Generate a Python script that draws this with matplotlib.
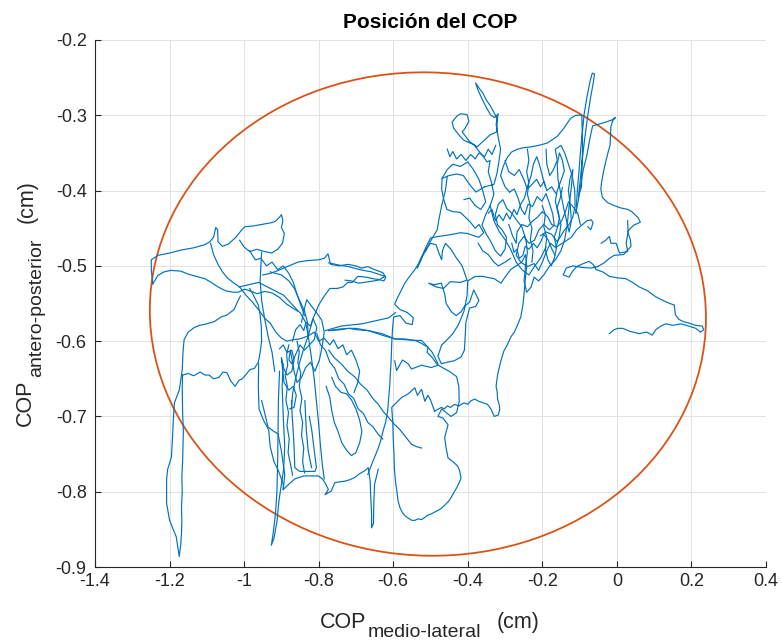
import numpy as np
import matplotlib
matplotlib.use("Agg")
import matplotlib.pyplot as plt
from matplotlib.patches import Ellipse

plt.rcParams['font.family'] = ['Liberation Sans', 'DejaVu Sans']

# COP trajectory, as strokes of (medio-lateral, antero-posterior) in cm
tail = [(-0.020, -0.590), (-0.008, -0.585), (0.002, -0.583), (0.016, -0.583), (0.035, -0.587),
        (0.060, -0.590), (0.080, -0.588), (0.095, -0.592), (0.104, -0.585), (0.118, -0.580),
        (0.131, -0.577), (0.150, -0.579), (0.172, -0.577), (0.193, -0.580), (0.212, -0.583),
        (0.224, -0.588), (0.233, -0.585), (0.229, -0.580), (0.211, -0.579), (0.193, -0.576),
        (0.178, -0.574), (0.166, -0.571), (0.157, -0.565), (0.154, -0.552), (0.142, -0.550),
        (0.128, -0.547), (0.104, -0.541), (0.082, -0.533), (0.060, -0.528), (0.042, -0.522),
        (0.024, -0.517), (0.003, -0.516), (-0.020, -0.514), (-0.038, -0.508), (-0.056, -0.505),
        (-0.064, -0.498), (-0.075, -0.494), (-0.090, -0.497), (-0.108, -0.501), (-0.120, -0.508),
        (-0.128, -0.515), (-0.144, -0.512), (-0.136, -0.503), (-0.118, -0.500), (-0.095, -0.502),
        (-0.070, -0.503), (-0.052, -0.501)]

right_edge = [(-0.052, -0.501), (-0.034, -0.496), (-0.020, -0.490), (-0.007, -0.486), (0.018, -0.485),
              (0.038, -0.474), (0.036, -0.465), (0.029, -0.454), (0.045, -0.446), (0.063, -0.442),
              (0.057, -0.436), (0.040, -0.428), (0.029, -0.425), (0.010, -0.423), (-0.007, -0.420),
              (-0.025, -0.416), (-0.039, -0.409), (-0.043, -0.398), (-0.041, -0.389), (-0.036, -0.375),
              (-0.030, -0.362), (-0.024, -0.350), (-0.018, -0.339), (-0.017, -0.325), (-0.016, -0.315),
              (-0.011, -0.307), (-0.004, -0.303), (-0.012, -0.306), (-0.030, -0.309), (-0.050, -0.312),
              (-0.065, -0.314), (-0.072, -0.330), (-0.080, -0.352), (-0.090, -0.372), (-0.098, -0.395),
              (-0.104, -0.415), (-0.110, -0.430)]

top_spike = [(-0.110, -0.430), (-0.106, -0.400), (-0.101, -0.370), (-0.097, -0.344), (-0.092, -0.320),
             (-0.088, -0.299), (-0.080, -0.275), (-0.072, -0.255), (-0.066, -0.244), (-0.060, -0.245),
             (-0.063, -0.256), (-0.070, -0.275), (-0.078, -0.300), (-0.086, -0.330), (-0.093, -0.360),
             (-0.098, -0.385), (-0.103, -0.408), (-0.095, -0.395), (-0.092, -0.340), (-0.094, -0.300),
             (-0.110, -0.300), (-0.124, -0.304), (-0.142, -0.317), (-0.160, -0.328), (-0.187, -0.337),
             (-0.210, -0.340), (-0.231, -0.342), (-0.250, -0.343), (-0.267, -0.345), (-0.283, -0.349),
             (-0.294, -0.356), (-0.305, -0.368), (-0.312, -0.380), (-0.300, -0.395), (-0.288, -0.402)]

right_core = [(-0.288, -0.402), (-0.275, -0.398), (-0.265, -0.410), (-0.256, -0.425), (-0.247, -0.432),
              (-0.238, -0.418), (-0.226, -0.421), (-0.214, -0.408), (-0.201, -0.414), (-0.190, -0.404),
              (-0.181, -0.417), (-0.172, -0.431), (-0.168, -0.446), (-0.181, -0.452), (-0.196, -0.445),
              (-0.209, -0.452), (-0.221, -0.466), (-0.236, -0.470), (-0.250, -0.461), (-0.263, -0.470),
              (-0.270, -0.486), (-0.258, -0.495), (-0.240, -0.501), (-0.222, -0.497), (-0.210, -0.506),
              (-0.199, -0.494), (-0.189, -0.481), (-0.178, -0.470), (-0.164, -0.476), (-0.155, -0.462),
              (-0.150, -0.445), (-0.158, -0.430), (-0.165, -0.414), (-0.160, -0.400), (-0.150, -0.387),
              (-0.141, -0.374), (-0.146, -0.360), (-0.154, -0.350), (-0.160, -0.365), (-0.158, -0.385),
              (-0.150, -0.405), (-0.142, -0.425), (-0.135, -0.440), (-0.128, -0.455), (-0.122, -0.440),
              (-0.125, -0.420), (-0.130, -0.400), (-0.126, -0.385), (-0.118, -0.372), (-0.122, -0.395),
              (-0.128, -0.420), (-0.133, -0.445), (-0.140, -0.465), (-0.150, -0.480), (-0.165, -0.492),
              (-0.180, -0.500), (-0.196, -0.512), (-0.210, -0.520), (-0.222, -0.515), (-0.230, -0.528),
              (-0.242, -0.535), (-0.249, -0.520), (-0.245, -0.500), (-0.240, -0.482), (-0.244, -0.465),
              (-0.255, -0.448), (-0.268, -0.440), (-0.282, -0.430), (-0.295, -0.424), (-0.306, -0.412),
              (-0.318, -0.418), (-0.326, -0.432), (-0.320, -0.446), (-0.308, -0.452), (-0.296, -0.462),
              (-0.300, -0.478), (-0.312, -0.487), (-0.326, -0.480), (-0.338, -0.468), (-0.350, -0.458),
              (-0.362, -0.446), (-0.352, -0.432), (-0.340, -0.420), (-0.330, -0.405), (-0.336, -0.390),
              (-0.345, -0.375), (-0.340, -0.360), (-0.348, -0.362), (-0.361, -0.353), (-0.384, -0.339),
              (-0.411, -0.333), (-0.424, -0.326), (-0.438, -0.317), (-0.442, -0.309), (-0.429, -0.301),
              (-0.419, -0.298), (-0.402, -0.299), (-0.397, -0.308), (-0.408, -0.318), (-0.415, -0.322),
              (-0.395, -0.335), (-0.375, -0.342), (-0.360, -0.335), (-0.340, -0.326), (-0.322, -0.322),
              (-0.321, -0.305), (-0.330, -0.296), (-0.340, -0.287), (-0.350, -0.280), (-0.360, -0.270),
              (-0.368, -0.265), (-0.379, -0.257), (-0.373, -0.266), (-0.362, -0.278), (-0.350, -0.290),
              (-0.338, -0.300), (-0.328, -0.303), (-0.318, -0.298), (-0.324, -0.312), (-0.318, -0.330),
              (-0.312, -0.345), (-0.316, -0.360), (-0.322, -0.378), (-0.330, -0.392), (-0.355, -0.395)]

right_left = [(-0.355, -0.395), (-0.378, -0.402), (-0.395, -0.392), (-0.412, -0.380), (-0.430, -0.378),
              (-0.450, -0.380), (-0.469, -0.384), (-0.470, -0.398), (-0.465, -0.411), (-0.456, -0.425),
              (-0.440, -0.428), (-0.420, -0.429), (-0.405, -0.436), (-0.393, -0.442), (-0.380, -0.450),
              (-0.370, -0.445), (-0.357, -0.456), (-0.370, -0.462), (-0.384, -0.460), (-0.400, -0.457),
              (-0.420, -0.456), (-0.440, -0.458), (-0.465, -0.460), (-0.480, -0.461), (-0.500, -0.463),
              (-0.512, -0.475), (-0.525, -0.490), (-0.536, -0.503), (-0.528, -0.495), (-0.515, -0.480),
              (-0.500, -0.470), (-0.485, -0.472), (-0.478, -0.482), (-0.470, -0.492), (-0.468, -0.480),
              (-0.460, -0.470), (-0.445, -0.478), (-0.430, -0.490), (-0.415, -0.500), (-0.402, -0.519),
              (-0.420, -0.522), (-0.447, -0.521), (-0.465, -0.530), (-0.485, -0.528), (-0.505, -0.523),
              (-0.490, -0.525), (-0.471, -0.523), (-0.462, -0.537), (-0.458, -0.550), (-0.444, -0.561),
              (-0.431, -0.566), (-0.418, -0.561), (-0.409, -0.554), (-0.395, -0.548), (-0.384, -0.532),
              (-0.370, -0.546), (-0.379, -0.554), (-0.395, -0.556), (-0.405, -0.575), (-0.407, -0.595),
              (-0.409, -0.612), (-0.418, -0.621), (-0.436, -0.626), (-0.455, -0.628), (-0.471, -0.630),
              (-0.480, -0.620), (-0.470, -0.605), (-0.455, -0.598), (-0.440, -0.590), (-0.425, -0.578),
              (-0.410, -0.560), (-0.402, -0.540), (-0.400, -0.520), (-0.380, -0.514), (-0.360, -0.514)]

descent = [(-0.360, -0.514), (-0.329, -0.517), (-0.311, -0.523), (-0.300, -0.515), (-0.285, -0.505),
           (-0.270, -0.500), (-0.255, -0.495), (-0.245, -0.485), (-0.242, -0.500), (-0.246, -0.520),
           (-0.249, -0.537), (-0.252, -0.552), (-0.258, -0.568), (-0.266, -0.578), (-0.275, -0.588),
           (-0.284, -0.594), (-0.293, -0.604), (-0.303, -0.613), (-0.311, -0.626), (-0.316, -0.636),
           (-0.320, -0.645), (-0.322, -0.652), (-0.324, -0.660), (-0.321, -0.668), (-0.320, -0.677),
           (-0.316, -0.684), (-0.314, -0.690), (-0.318, -0.698), (-0.329, -0.700), (-0.338, -0.690),
           (-0.347, -0.684), (-0.358, -0.682), (-0.370, -0.680), (-0.381, -0.677), (-0.391, -0.679),
           (-0.400, -0.684), (-0.410, -0.682), (-0.424, -0.686), (-0.436, -0.684), (-0.446, -0.688),
           (-0.455, -0.686), (-0.463, -0.690), (-0.471, -0.688), (-0.489, -0.693)]

bottom_loop = [(-0.489, -0.693), (-0.500, -0.678), (-0.507, -0.672), (-0.515, -0.680), (-0.524, -0.664),
               (-0.535, -0.672), (-0.542, -0.662), (-0.560, -0.670), (-0.578, -0.675), (-0.604, -0.688),
               (-0.601, -0.710), (-0.600, -0.730), (-0.598, -0.750), (-0.597, -0.768), (-0.594, -0.786),
               (-0.590, -0.800), (-0.587, -0.812), (-0.582, -0.821), (-0.575, -0.828), (-0.568, -0.832),
               (-0.560, -0.835), (-0.550, -0.838), (-0.542, -0.838), (-0.533, -0.836), (-0.524, -0.837),
               (-0.515, -0.834), (-0.507, -0.831), (-0.496, -0.829), (-0.485, -0.826), (-0.473, -0.823),
               (-0.462, -0.818), (-0.452, -0.813), (-0.445, -0.808), (-0.436, -0.800), (-0.430, -0.795),
               (-0.425, -0.790), (-0.418, -0.782), (-0.422, -0.772), (-0.427, -0.766), (-0.440, -0.760),
               (-0.453, -0.755), (-0.458, -0.742), (-0.462, -0.728), (-0.455, -0.715), (-0.453, -0.711),
               (-0.467, -0.702), (-0.480, -0.700), (-0.470, -0.690), (-0.445, -0.700), (-0.430, -0.695),
               (-0.423, -0.680), (-0.424, -0.660), (-0.430, -0.647), (-0.450, -0.640), (-0.465, -0.636),
               (-0.482, -0.631), (-0.495, -0.622), (-0.509, -0.615), (-0.507, -0.608), (-0.524, -0.599),
               (-0.542, -0.599), (-0.570, -0.597), (-0.596, -0.597), (-0.630, -0.590), (-0.667, -0.586),
               (-0.700, -0.583), (-0.720, -0.583), (-0.745, -0.585), (-0.773, -0.586)]

bridge = [(-0.455, -0.381), (-0.460, -0.400), (-0.470, -0.420), (-0.478, -0.440), (-0.482, -0.452),
          (-0.495, -0.463), (-0.503, -0.470), (-0.511, -0.479), (-0.524, -0.488), (-0.532, -0.497),
          (-0.542, -0.505), (-0.556, -0.514), (-0.569, -0.523), (-0.580, -0.534), (-0.591, -0.545),
          (-0.596, -0.551), (-0.582, -0.558), (-0.562, -0.562), (-0.546, -0.569), (-0.549, -0.578),
          (-0.566, -0.576), (-0.582, -0.566), (-0.599, -0.568), (-0.602, -0.585), (-0.604, -0.603),
          (-0.605, -0.618), (-0.606, -0.630), (-0.608, -0.645), (-0.609, -0.657), (-0.612, -0.675),
          (-0.615, -0.693), (-0.620, -0.707), (-0.627, -0.719), (-0.633, -0.731), (-0.640, -0.742),
          (-0.650, -0.754), (-0.658, -0.764), (-0.668, -0.777)]

right_extra = [
    [(-0.162, -0.475), (-0.140, -0.468), (-0.122, -0.462), (-0.108, -0.452), (-0.092, -0.445),
     (-0.080, -0.440), (-0.068, -0.439), (-0.064, -0.443), (-0.070, -0.452), (-0.078, -0.448)],
    [(-0.042, -0.470), (-0.030, -0.466), (-0.020, -0.461), (-0.016, -0.470), (-0.002, -0.470),
     (0.007, -0.483), (0.029, -0.481), (0.025, -0.470), (0.030, -0.455), (0.029, -0.440)],
    [(-0.190, -0.345), (-0.188, -0.365), (-0.180, -0.380), (-0.170, -0.372), (-0.160, -0.360),
     (-0.165, -0.345), (-0.150, -0.340), (-0.140, -0.350), (-0.130, -0.365), (-0.120, -0.380),
     (-0.113, -0.400), (-0.112, -0.420), (-0.118, -0.435), (-0.128, -0.445), (-0.140, -0.452),
     (-0.150, -0.460), (-0.160, -0.468), (-0.175, -0.458), (-0.190, -0.455), (-0.205, -0.460)],
    [(-0.300, -0.360), (-0.290, -0.375), (-0.275, -0.380), (-0.262, -0.372), (-0.250, -0.385),
     (-0.240, -0.398), (-0.228, -0.392), (-0.215, -0.385), (-0.205, -0.395), (-0.195, -0.388),
     (-0.188, -0.400), (-0.175, -0.395), (-0.162, -0.405)],
    [(-0.290, -0.445), (-0.280, -0.460), (-0.270, -0.470), (-0.268, -0.455), (-0.255, -0.445),
     (-0.240, -0.448), (-0.225, -0.440), (-0.212, -0.435), (-0.200, -0.428), (-0.185, -0.435),
     (-0.175, -0.445), (-0.160, -0.448), (-0.148, -0.440), (-0.138, -0.428), (-0.130, -0.415),
     (-0.120, -0.420), (-0.105, -0.430), (-0.098, -0.445)],
    [(-0.340, -0.420), (-0.330, -0.440), (-0.315, -0.455), (-0.300, -0.465), (-0.285, -0.478),
     (-0.270, -0.495), (-0.255, -0.505), (-0.236, -0.512), (-0.220, -0.500), (-0.205, -0.490),
     (-0.190, -0.475)],
    [(-0.372, -0.470), (-0.360, -0.480), (-0.345, -0.485), (-0.330, -0.495), (-0.318, -0.500),
     (-0.300, -0.495), (-0.285, -0.490)],
    [(-0.469, -0.384), (-0.455, -0.372), (-0.440, -0.365), (-0.420, -0.368), (-0.400, -0.362),
     (-0.385, -0.372), (-0.370, -0.385), (-0.360, -0.400), (-0.352, -0.415), (-0.365, -0.425),
     (-0.380, -0.420), (-0.395, -0.410), (-0.410, -0.412)],
    [(-0.345, -0.430), (-0.335, -0.425), (-0.326, -0.440), (-0.316, -0.432), (-0.305, -0.440),
     (-0.296, -0.430), (-0.287, -0.438), (-0.276, -0.425), (-0.268, -0.432), (-0.258, -0.418),
     (-0.248, -0.410), (-0.240, -0.395), (-0.230, -0.380), (-0.224, -0.365), (-0.215, -0.355),
     (-0.208, -0.365), (-0.200, -0.380), (-0.192, -0.395)],
    [(-0.240, -0.345), (-0.236, -0.360), (-0.242, -0.375), (-0.236, -0.390), (-0.240, -0.405),
     (-0.232, -0.420), (-0.236, -0.436), (-0.228, -0.450), (-0.232, -0.465), (-0.225, -0.480),
     (-0.228, -0.495)],
    [(-0.200, -0.420), (-0.192, -0.432), (-0.196, -0.448), (-0.188, -0.462), (-0.192, -0.478),
     (-0.185, -0.492), (-0.176, -0.500), (-0.168, -0.490), (-0.162, -0.476), (-0.168, -0.462),
     (-0.160, -0.450), (-0.154, -0.436), (-0.160, -0.422), (-0.152, -0.410), (-0.146, -0.396)],
    [(-0.455, -0.345), (-0.448, -0.355), (-0.440, -0.348), (-0.430, -0.358), (-0.418, -0.352),
     (-0.405, -0.360), (-0.392, -0.352), (-0.380, -0.358), (-0.370, -0.350), (-0.355, -0.355),
     (-0.345, -0.345), (-0.335, -0.352), (-0.325, -0.340)],
    [(-0.282, -0.470), (-0.276, -0.482), (-0.268, -0.478), (-0.262, -0.490), (-0.252, -0.486),
     (-0.246, -0.474), (-0.236, -0.478), (-0.224, -0.470), (-0.214, -0.476), (-0.204, -0.468),
     (-0.196, -0.458), (-0.184, -0.466), (-0.174, -0.478), (-0.166, -0.486)],
]

left_top = [(-1.245, -0.524), (-1.249, -0.505), (-1.249, -0.492), (-1.231, -0.486), (-1.200, -0.483),
            (-1.169, -0.479), (-1.135, -0.476), (-1.106, -0.472), (-1.092, -0.468), (-1.082, -0.462),
            (-1.076, -0.449), (-1.071, -0.452), (-1.070, -0.468), (-1.058, -0.474), (-1.042, -0.471),
            (-1.022, -0.462), (-1.006, -0.452), (-0.998, -0.448), (-0.975, -0.447), (-0.953, -0.445),
            (-0.930, -0.443), (-0.917, -0.441), (-0.906, -0.436), (-0.900, -0.432), (-0.896, -0.440),
            (-0.900, -0.449), (-0.892, -0.457), (-0.897, -0.470), (-0.910, -0.478), (-0.926, -0.483),
            (-0.945, -0.481), (-0.966, -0.478), (-0.985, -0.481), (-1.000, -0.475), (-1.012, -0.466)]

left_lower = [(-1.245, -0.524), (-1.232, -0.513), (-1.215, -0.508), (-1.196, -0.506), (-1.170, -0.507),
              (-1.150, -0.511), (-1.128, -0.514), (-1.106, -0.517), (-1.088, -0.522), (-1.070, -0.528),
              (-1.050, -0.533), (-1.030, -0.535), (-1.016, -0.535), (-0.998, -0.531), (-0.985, -0.533),
              (-0.965, -0.537), (-0.945, -0.534), (-0.925, -0.536), (-0.905, -0.542), (-0.888, -0.550),
              (-0.870, -0.556), (-0.850, -0.562), (-0.835, -0.575), (-0.828, -0.593)]

left_diag = [(-1.090, -0.470), (-1.082, -0.485), (-1.070, -0.498), (-1.058, -0.508), (-1.045, -0.516),
             (-1.030, -0.522), (-1.012, -0.528), (-0.995, -0.539), (-0.978, -0.548), (-0.960, -0.559),
             (-0.944, -0.570), (-0.930, -0.576), (-0.915, -0.588), (-0.900, -0.596), (-0.885, -0.600),
             (-0.868, -0.598), (-0.850, -0.597), (-0.828, -0.593)]

far_left = [(-1.010, -0.540), (-1.018, -0.548), (-1.027, -0.558), (-1.045, -0.565), (-1.062, -0.568),
            (-1.080, -0.574), (-1.100, -0.577), (-1.120, -0.579), (-1.134, -0.582), (-1.150, -0.588),
            (-1.161, -0.598), (-1.164, -0.615), (-1.166, -0.638), (-1.174, -0.665), (-1.187, -0.682),
            (-1.190, -0.705), (-1.192, -0.727), (-1.195, -0.754), (-1.205, -0.770), (-1.208, -0.784),
            (-1.208, -0.815), (-1.200, -0.838), (-1.182, -0.860), (-1.174, -0.886), (-1.170, -0.870),
            (-1.168, -0.855), (-1.167, -0.840), (-1.168, -0.820), (-1.166, -0.800), (-1.167, -0.780),
            (-1.165, -0.760), (-1.164, -0.740), (-1.163, -0.720), (-1.165, -0.695), (-1.166, -0.660),
            (-1.165, -0.645)]

left_wiggle = [(-1.165, -0.645), (-1.150, -0.643), (-1.135, -0.646), (-1.118, -0.641), (-1.105, -0.645),
               (-1.094, -0.645), (-1.082, -0.650), (-1.067, -0.648), (-1.057, -0.641), (-1.046, -0.642),
               (-1.036, -0.653), (-1.024, -0.660), (-1.014, -0.652), (-1.005, -0.650), (-0.996, -0.645),
               (-0.985, -0.638), (-0.972, -0.636), (-0.962, -0.628), (-0.957, -0.615), (-0.953, -0.600),
               (-0.954, -0.580), (-0.958, -0.562), (-0.962, -0.552), (-0.975, -0.539), (-0.985, -0.530)]

left_spike = [(-0.905, -0.640), (-0.908, -0.680), (-0.909, -0.720), (-0.910, -0.760), (-0.912, -0.800),
              (-0.916, -0.830), (-0.922, -0.855), (-0.927, -0.871), (-0.920, -0.862), (-0.912, -0.840),
              (-0.906, -0.810), (-0.900, -0.790), (-0.894, -0.770), (-0.891, -0.740), (-0.895, -0.700),
              (-0.898, -0.660), (-0.895, -0.630)]

left_bottom = [(-0.895, -0.797), (-0.880, -0.790), (-0.864, -0.783), (-0.840, -0.779), (-0.819, -0.779),
               (-0.801, -0.779), (-0.790, -0.783), (-0.783, -0.788), (-0.774, -0.797), (-0.783, -0.804),
               (-0.766, -0.799), (-0.757, -0.788), (-0.745, -0.787), (-0.730, -0.786), (-0.716, -0.784),
               (-0.703, -0.781), (-0.690, -0.776), (-0.676, -0.772), (-0.667, -0.768), (-0.662, -0.785),
               (-0.660, -0.810), (-0.658, -0.830), (-0.658, -0.848), (-0.653, -0.842), (-0.652, -0.815),
               (-0.650, -0.790), (-0.640, -0.770)]

left_extra = [
    [(-0.961, -0.630), (-0.962, -0.660), (-0.960, -0.690), (-0.948, -0.705), (-0.934, -0.718),
     (-0.930, -0.740), (-0.920, -0.760), (-0.908, -0.772), (-0.895, -0.790), (-0.895, -0.797)],
    [(-0.873, -0.679), (-0.871, -0.700), (-0.869, -0.714), (-0.866, -0.740), (-0.864, -0.768),
     (-0.851, -0.773), (-0.830, -0.773), (-0.810, -0.773), (-0.806, -0.768), (-0.812, -0.745),
     (-0.818, -0.720), (-0.825, -0.700)],
    [(-0.837, -0.679), (-0.835, -0.700), (-0.833, -0.719), (-0.828, -0.746), (-0.819, -0.768)],
    [(-0.953, -0.679), (-0.945, -0.695), (-0.936, -0.714), (-0.920, -0.720), (-0.909, -0.723),
     (-0.900, -0.746), (-0.891, -0.777), (-0.895, -0.797)],
    [(-0.828, -0.593), (-0.840, -0.610), (-0.852, -0.630), (-0.862, -0.650), (-0.870, -0.670),
     (-0.873, -0.690)],
    [(-0.828, -0.593), (-0.820, -0.620), (-0.812, -0.650), (-0.806, -0.680), (-0.800, -0.710),
     (-0.795, -0.740), (-0.790, -0.765), (-0.785, -0.783)],
    [(-0.805, -0.590), (-0.795, -0.605), (-0.782, -0.612), (-0.770, -0.628), (-0.757, -0.636),
     (-0.746, -0.650), (-0.732, -0.657), (-0.720, -0.670), (-0.706, -0.676), (-0.694, -0.690),
     (-0.680, -0.696), (-0.668, -0.708), (-0.654, -0.714), (-0.640, -0.724), (-0.628, -0.730)],
    [(-0.773, -0.612), (-0.758, -0.622), (-0.740, -0.630), (-0.722, -0.640), (-0.702, -0.648),
     (-0.688, -0.657), (-0.670, -0.665), (-0.655, -0.676), (-0.640, -0.684), (-0.626, -0.694),
     (-0.615, -0.700), (-0.596, -0.711), (-0.583, -0.717), (-0.570, -0.725), (-0.551, -0.737),
     (-0.538, -0.740), (-0.524, -0.742)],
    [(-0.870, -0.600), (-0.862, -0.585), (-0.850, -0.578), (-0.840, -0.586), (-0.834, -0.575),
     (-0.822, -0.580), (-0.815, -0.570), (-0.805, -0.582), (-0.812, -0.598), (-0.825, -0.605),
     (-0.838, -0.612), (-0.850, -0.605), (-0.862, -0.618), (-0.872, -0.630), (-0.880, -0.625),
     (-0.876, -0.612), (-0.866, -0.640), (-0.858, -0.655), (-0.846, -0.648), (-0.835, -0.635),
     (-0.822, -0.628), (-0.810, -0.640), (-0.798, -0.625), (-0.790, -0.605), (-0.785, -0.588),
     (-0.792, -0.572), (-0.806, -0.562), (-0.820, -0.553), (-0.832, -0.545), (-0.840, -0.560),
     (-0.846, -0.575)],
    [(-0.950, -0.512), (-0.930, -0.510), (-0.908, -0.506), (-0.880, -0.500), (-0.855, -0.495),
     (-0.830, -0.493), (-0.801, -0.492), (-0.785, -0.490), (-0.775, -0.484), (-0.772, -0.490),
     (-0.768, -0.498), (-0.745, -0.500), (-0.722, -0.498), (-0.700, -0.500), (-0.685, -0.503),
     (-0.668, -0.501), (-0.650, -0.505), (-0.628, -0.509), (-0.620, -0.515), (-0.625, -0.520),
     (-0.640, -0.518), (-0.655, -0.517), (-0.672, -0.515), (-0.695, -0.514), (-0.710, -0.522),
     (-0.722, -0.522), (-0.735, -0.528), (-0.750, -0.530)],
    [(-0.773, -0.496), (-0.745, -0.499), (-0.720, -0.501), (-0.690, -0.505), (-0.658, -0.508),
     (-0.640, -0.511), (-0.622, -0.514), (-0.640, -0.519), (-0.665, -0.521), (-0.693, -0.523),
     (-0.712, -0.520), (-0.729, -0.519)],
    [(-0.773, -0.586), (-0.745, -0.584), (-0.720, -0.583), (-0.695, -0.585), (-0.667, -0.586),
     (-0.630, -0.592), (-0.596, -0.597), (-0.570, -0.598), (-0.542, -0.599), (-0.524, -0.603),
     (-0.507, -0.608), (-0.495, -0.615), (-0.489, -0.621), (-0.480, -0.630)],
    [(-0.782, -0.586), (-0.740, -0.580), (-0.684, -0.577), (-0.648, -0.573), (-0.612, -0.569),
     (-0.594, -0.562)],
    [(-0.828, -0.593), (-0.830, -0.575), (-0.838, -0.560), (-0.852, -0.545), (-0.865, -0.530),
     (-0.880, -0.520), (-0.900, -0.512), (-0.930, -0.508)],
    [(-0.828, -0.593), (-0.815, -0.570), (-0.800, -0.552), (-0.785, -0.540), (-0.770, -0.530),
     (-0.750, -0.530)],
    [(-1.014, -0.528), (-0.961, -0.522), (-0.894, -0.539), (-0.855, -0.560)],
    [(-0.953, -0.482), (-0.955, -0.500), (-0.957, -0.520), (-0.953, -0.546), (-0.945, -0.570),
     (-0.935, -0.595), (-0.925, -0.615), (-0.918, -0.640)],
    [(-0.596, -0.626), (-0.591, -0.639), (-0.575, -0.625), (-0.560, -0.630), (-0.551, -0.637),
     (-0.524, -0.632), (-0.498, -0.635), (-0.480, -0.632)],
    [(-0.880, -0.605), (-0.886, -0.618), (-0.883, -0.632), (-0.890, -0.645), (-0.884, -0.660),
     (-0.888, -0.678), (-0.881, -0.695), (-0.885, -0.712), (-0.879, -0.730), (-0.882, -0.748),
     (-0.875, -0.765), (-0.870, -0.778)],
    [(-0.858, -0.600), (-0.852, -0.615), (-0.856, -0.628), (-0.848, -0.642), (-0.852, -0.660),
     (-0.845, -0.676), (-0.850, -0.692), (-0.843, -0.708), (-0.846, -0.725), (-0.840, -0.742),
     (-0.843, -0.760), (-0.838, -0.775)],
    [(-0.905, -0.610), (-0.895, -0.605), (-0.885, -0.615), (-0.872, -0.612), (-0.866, -0.625),
     (-0.872, -0.640), (-0.885, -0.645), (-0.895, -0.635), (-0.900, -0.622), (-0.893, -0.655),
     (-0.880, -0.665), (-0.868, -0.660), (-0.860, -0.672), (-0.866, -0.688), (-0.878, -0.690)],
    [(-0.828, -0.593), (-0.812, -0.588), (-0.800, -0.600), (-0.785, -0.596), (-0.770, -0.605),
     (-0.760, -0.598), (-0.748, -0.610), (-0.735, -0.605), (-0.725, -0.618), (-0.712, -0.612),
     (-0.700, -0.625), (-0.690, -0.640), (-0.695, -0.655), (-0.705, -0.668)],
    [(-0.780, -0.660), (-0.770, -0.675), (-0.765, -0.692), (-0.758, -0.708), (-0.748, -0.720),
     (-0.738, -0.735), (-0.725, -0.745), (-0.712, -0.752), (-0.700, -0.748), (-0.690, -0.735),
     (-0.684, -0.720), (-0.690, -0.705), (-0.700, -0.690), (-0.712, -0.678), (-0.725, -0.670),
     (-0.740, -0.668), (-0.755, -0.660), (-0.765, -0.648)],
    [(-0.985, -0.480), (-0.970, -0.492), (-0.955, -0.490), (-0.940, -0.500), (-0.925, -0.495),
     (-0.910, -0.505), (-0.895, -0.500), (-0.880, -0.510), (-0.868, -0.522), (-0.858, -0.538),
     (-0.848, -0.552), (-0.838, -0.566)],
]

strokes = ([tail, right_edge, top_spike, right_core, right_left, descent, bottom_loop, bridge]
           + right_extra
           + [left_top, left_lower, left_diag, far_left, left_wiggle, left_spike, left_bottom]
           + left_extra)

# 95% ellipse
ell_cx, ell_cy = -0.507, -0.564
ell_w, ell_h = 1.492, 0.642
ell_angle = -0.5

xtick_vals = [-1.4, -1.2, -1.0, -0.8, -0.6, -0.4, -0.2, 0.0, 0.2, 0.4]
xtick_labels = ['-1.4', '-1.2', '-1', '-0.8', '-0.6', '-0.4', '-0.2', '0', '0.2', '0.4']
ytick_vals = [-0.9, -0.8, -0.7, -0.6, -0.5, -0.4, -0.3, -0.2]
ytick_labels = ['-0.9', '-0.8', '-0.7', '-0.6', '-0.5', '-0.4', '-0.3', '-0.2']

fig = plt.figure(figsize=(7.82, 6.42), dpi=100)
ax = fig.add_axes([0.1215, 0.1168, 0.8580, 0.8209])

for s in strokes:
    pts = np.array(s)
    ax.plot(pts[:, 0], pts[:, 1], color='#0072BD', lw=0.85, solid_joinstyle='round')

ax.add_patch(Ellipse((ell_cx, ell_cy), ell_w, ell_h, angle=ell_angle,
                     fill=False, edgecolor='#D95319', lw=1.3))

ax.set_xlim(-1.4, 0.4)
ax.set_ylim(-0.9, -0.2)
ax.set_xticks(xtick_vals)
ax.set_xticklabels(xtick_labels)
ax.set_yticks(ytick_vals)
ax.set_yticklabels(ytick_labels)
ax.grid(True, color='#e2e2e2', lw=0.7)
ax.set_axisbelow(True)
for side in ['top', 'right']:
    ax.spines[side].set_visible(False)
for side in ['left', 'bottom']:
    ax.spines[side].set_color('#262626')
    ax.spines[side].set_linewidth(0.8)
ax.tick_params(direction='in', length=4, width=0.8, colors='#262626', labelsize=13)
ax.tick_params(axis='x', pad=4)
ax.tick_params(axis='y', pad=6)

ax.set_title('Posición del COP', fontsize=15, fontweight='bold', pad=8.5)

# axis labels with subscripts
fig.text(0.4092, 0.0218, 'COP', fontsize=15.5, color='#262626', ha='left', va='baseline')
fig.text(0.4706, 0.0078, 'medio-lateral', fontsize=14, color='#262626', ha='left', va='baseline')
fig.text(0.6355, 0.0218, '(cm)', fontsize=15.5, color='#262626', ha='left', va='baseline')

fig.text(0.0400, 0.3364, 'COP', fontsize=15.5, color='#262626', rotation=90,
         rotation_mode='anchor', ha='left', va='baseline')
fig.text(0.0530, 0.4128, 'antero-posterior', fontsize=14, color='#262626', rotation=90,
         rotation_mode='anchor', ha='left', va='baseline')
fig.text(0.0420, 0.6526, '(cm)', fontsize=15.5, color='#262626', rotation=90,
         rotation_mode='anchor', ha='left', va='baseline')

fig.savefig('out.png', dpi=100)
